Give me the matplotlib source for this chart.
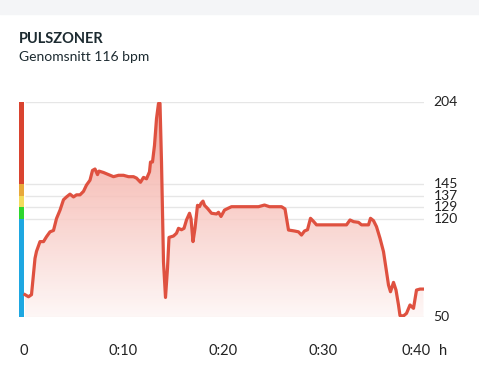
import numpy as np
import matplotlib.pyplot as plt
from matplotlib.colors import LinearSegmentedColormap

plt.rcParams['font.family'] = ['Lato', 'DejaVu Sans']

# heart rate over time (minutes, bpm)
minutes = [0.15, 0.5, 0.8, 1.15, 1.3, 1.65, 2.0, 2.3, 2.65, 3.0,
           3.3, 3.65, 4.0, 4.3, 4.65, 5.0, 5.3, 5.65, 6.0, 6.3,
           6.65, 6.9, 7.15, 7.4, 7.55, 8.0, 8.5, 9.0, 9.5, 10.0,
           10.5, 11.0, 11.3, 11.7, 12.0, 12.3, 12.6, 12.7, 12.9, 13.1,
           13.3, 13.5, 13.65, 13.8, 14.0, 14.2, 14.4, 14.55, 15.0, 15.3,
           15.5, 15.8, 16.05, 16.3, 16.6, 16.75, 16.95, 17.15, 17.4, 17.6,
           17.75, 17.95, 18.1, 18.4, 18.8, 19.3, 19.5, 19.75, 20.1, 20.5,
           20.8, 23.5, 24.1, 24.6, 25.8, 26.15, 26.5, 27.1, 27.5, 27.8,
           28.1, 28.4, 28.7, 29.0, 29.3, 32.3, 32.65, 33.0, 33.5, 33.8,
           34.5, 34.7, 35.0, 35.3, 35.65, 36.0, 36.25, 36.5, 36.7, 37.0,
           37.25, 37.5, 37.65, 38.0, 38.3, 38.65, 39.0, 39.3, 39.65, 40.0]
bpm = [66, 64.5, 66, 92, 97, 104, 104, 107.5, 111, 112,
       120.5, 126.5, 134, 136, 138, 136, 137.5, 137.5, 140, 144.5,
       148, 155, 156, 152, 154.5, 153.5, 152, 150.5, 151.5, 151.5,
       150.5, 150.5, 149.5, 146.5, 150, 149, 154, 161, 161, 173,
       192, 203, 203, 161, 89.5, 64, 85, 107, 108, 110,
       113.5, 112.5, 113.5, 119.5, 124.3, 120.5, 104, 113.5, 130, 129,
       131.4, 133, 130, 127.8, 124.3, 123.8, 125, 122, 126.6, 128,
       129, 129, 130.2, 129, 129, 127.4, 112.3, 111.6, 111, 108.7,
       111.6, 112.5, 120.7, 118.5, 116, 116, 119.5, 118.3, 117.8, 116,
       116, 120.7, 119, 114.7, 106.4, 96.8, 84.9, 72.9, 68.1, 74.8,
       69.3, 58.6, 51, 50.8, 52.6, 58.6, 56.2, 69.3, 70, 70]

# zone limits and colours
zone_edges = [50, 120, 129, 137, 145, 204]
zone_colors = ['#1ea7e1', '#2ed62e', '#f2dc5d', '#e8a93b', '#d9432f']
y_ticks = [204, 145, 137, 129, 120, 50]
x_ticks = [0, 10, 20, 30]
x_labels = ['0', '0:10', '0:20', '0:30']

line_color = '#df5140'

fig = plt.figure(figsize=(4.79, 3.70), dpi=100)
fig.patches.append(plt.Rectangle((0, 1 - 14 / 370), 1, 14 / 370, transform=fig.transFigure,
                                 color='#f4f5f7', zorder=0))

ax = fig.add_axes([18.5 / 479, 53 / 370, 405 / 479, 215 / 370])
ax.set_xlim(-0.5, 40)
ax.set_ylim(50, 204)
ax.axis('off')

# grid lines
for v in y_ticks:
    ax.hlines(v, 0.1, 40, color='#e6e6e6', lw=1, zorder=1)
    ax.text(41.0, v, str(v), ha='left', va='center', fontsize=10, color='#222222')

# zone bar
for lo, hi, c in zip(zone_edges[:-1], zone_edges[1:], zone_colors):
    ax.bar(-0.2, hi - lo, bottom=lo, width=0.5, color=c, zorder=3)

# gradient fill under the line
poly = ax.fill_between(minutes, bpm, 50, color='none', lw=0)
cmap = LinearSegmentedColormap.from_list('fade', ['#fef6f5', '#f29a8f'])
grad = np.linspace(0, 1, 256).reshape(-1, 1)
im = ax.imshow(grad, cmap=cmap, aspect='auto', extent=[0, 40, 50, 204],
               origin='lower', zorder=2, alpha=0.85)
im.set_clip_path(poly.get_paths()[0], transform=ax.transData)

ax.plot(minutes, bpm, color=line_color, lw=2.3, zorder=4, solid_joinstyle='round')

# x labels
for t, lab in zip(x_ticks, x_labels):
    ax.text(t, 26, lab, ha='center', va='center', fontsize=10.5, color='#222222')
ax.text(39.25, 26, '0:40', ha='center', va='center', fontsize=10.5, color='#222222')
ax.text(41.95, 26, 'h', ha='center', va='center', fontsize=10.5, color='#222222')

fig.text(19 / 479, 1 - 39 / 370, 'PULSZONER', fontsize=10.5, fontweight='bold',
         color='#1c2a30', va='center')
fig.text(19 / 479, 1 - 57 / 370, 'Genomsnitt 116 bpm', fontsize=10,
         color='#1c2a30', va='center')

fig.savefig('out.png', dpi=100)
